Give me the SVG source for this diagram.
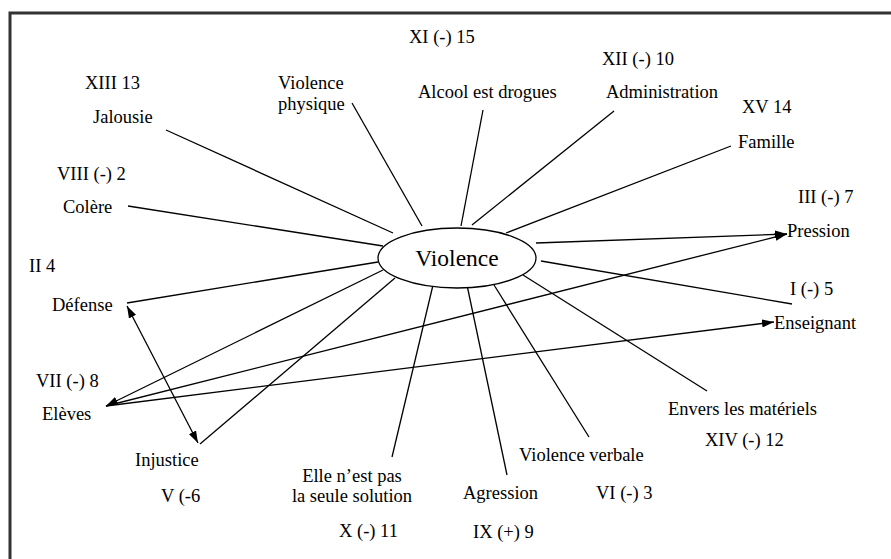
<svg xmlns="http://www.w3.org/2000/svg" width="891" height="559" viewBox="0 0 891 559">
<style>
.c line{stroke:#000;stroke-width:1.3}
.frame{stroke:#333;stroke-width:3;fill:none}
text{font-family:"Liberation Serif","Times New Roman",serif;font-size:18.5px;fill:#000}
</style>
<defs>
<marker id="ah" viewBox="0 0 12 8" refX="12" refY="4" markerWidth="12" markerHeight="8" markerUnits="userSpaceOnUse" orient="auto-start-reverse">
<path d="M0,0 L12,4 L0,8 z" fill="#000"/>
</marker>
</defs>
<rect width="891" height="559" fill="#fff"/>
<path class="frame" d="M10,559 L10,13 L891,13"/>
<g class="c" id="connectors">
<line x1="166" y1="130" x2="393" y2="233"/>
<line x1="352" y1="103" x2="422" y2="226"/>
<line x1="128" y1="206" x2="383" y2="246"/>
<line x1="483" y1="110" x2="461" y2="226"/>
<line x1="614" y1="111" x2="472" y2="225"/>
<line x1="731" y1="146" x2="506" y2="233"/>
<line x1="536" y1="243" x2="787" y2="234" marker-end="url(#ah)"/>
<line x1="541" y1="261" x2="792" y2="304"/>
<line x1="127" y1="303" x2="378" y2="262"/>
<line x1="383" y1="270" x2="106" y2="406" marker-end="url(#ah)"/>
<line x1="395" y1="278" x2="200" y2="444"/>
<line x1="106" y1="406" x2="787" y2="234" marker-end="url(#ah)"/>
<line x1="106" y1="406" x2="774" y2="322" marker-end="url(#ah)"/>
<line x1="127" y1="306" x2="198" y2="443" marker-start="url(#ah)" marker-end="url(#ah)"/>
<line x1="433" y1="285" x2="392" y2="457"/>
<line x1="467" y1="285" x2="507" y2="475"/>
<line x1="494" y1="285" x2="589" y2="437"/>
<line x1="523" y1="275" x2="707" y2="391"/>
</g>
<g id="violence">
<ellipse cx="457" cy="258" rx="79" ry="30" fill="#fff" stroke="#000" stroke-width="1.3"/>
<text x="457" y="266" text-anchor="middle" style="font-size:23.5px">Violence</text>
</g>
<g id="jalousie"><text x="85" y="89">XIII 13</text><text x="93" y="123">Jalousie</text></g>
<g id="physique"><text x="278" y="89">Violence</text><text x="278" y="110">physique</text></g>
<g id="colere"><text x="57" y="180">VIII (-) 2</text><text x="63" y="213">Colère</text></g>
<g id="alcool"><text x="409" y="43">XI (-) 15</text><text x="418" y="98">Alcool est drogues</text></g>
<g id="administration"><text x="602" y="65">XII (-) 10</text><text x="606" y="98">Administration</text></g>
<g id="famille"><text x="742" y="113">XV 14</text><text x="738" y="148">Famille</text></g>
<g id="pression"><text x="798" y="203">III (-) 7</text><text x="787" y="237">Pression</text></g>
<g id="enseignant"><text x="790" y="295">I (-) 5</text><text x="774" y="329">Enseignant</text></g>
<g id="defense"><text x="29" y="272">II 4</text><text x="52" y="311">Défense</text></g>
<g id="eleves"><text x="36" y="387">VII (-) 8</text><text x="42" y="420">Elèves</text></g>
<g id="injustice"><text x="135" y="466">Injustice</text><text x="161" y="502">V (-6</text></g>
<g id="solution"><text x="352" y="482" text-anchor="middle">Elle n’est pas</text><text x="352" y="502" text-anchor="middle">la seule solution</text><text x="339" y="537">X (-) 11</text></g>
<g id="agression"><text x="463" y="499">Agression</text><text x="473" y="538">IX (+) 9</text></g>
<g id="verbale"><text x="519" y="461">Violence verbale</text><text x="596" y="499">VI (-) 3</text></g>
<g id="materiels"><text x="668" y="415">Envers les matériels</text><text x="705" y="446">XIV (-) 12</text></g>
</svg>
